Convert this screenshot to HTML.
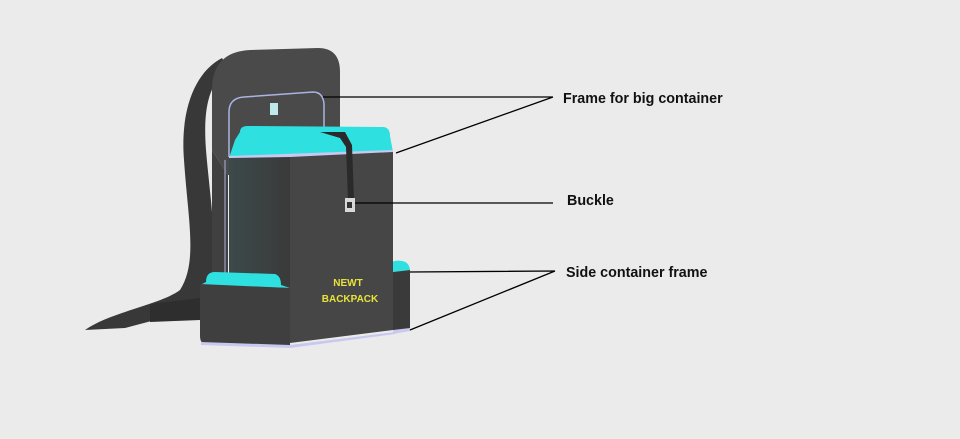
<!DOCTYPE html>
<html><head><style>
body{margin:0;background:#ebebeb;}
svg{display:block}
text{font-family:"Liberation Sans",sans-serif;}
</style></head><body>
<svg width="960" height="439" viewBox="0 0 960 439">
<defs>
<linearGradient id="lf" x1="0" y1="0" x2="1" y2="0">
<stop offset="0" stop-color="#3c4a4a"/><stop offset="1" stop-color="#3a3a3a"/>
</linearGradient>
</defs>
<rect width="960" height="439" fill="#ebebeb"/>
<!-- strap -->
<path d="M222,58 C195,72 180,110 184,160 C188,220 198,262 180,290 C160,305 110,312 85,330 L125,328 C155,320 190,312 205,298 C222,268 210,200 206,150 C203,110 208,85 228,68 Z" fill="#383838"/>
<path d="M150,304 L200,298 L200,320 L150,322 Z" fill="#2e2e2e"/>
<!-- back panel -->
<path d="M250,50 L318,48 Q340,48 340,72 L340,175 L228,175 L212,150 L212,90 Q212,52 250,50 Z" fill="#4a4a4a"/>
<path d="M212,150 L228,175 L228,285 L212,285 Z" fill="#404040"/>
<!-- frame wire -->
<path d="M229,157 L229,112 Q229,98 244,97 L313,92 Q323,92 324,104 L324,128" fill="none" stroke="#a9b4e0" stroke-width="1.5"/>
<path d="M225,160 L225,285" stroke="#a9b4e0" stroke-width="1"/>
<rect x="270" y="103" width="8" height="12" fill="#bfeaea"/>
<!-- big lid -->
<path d="M240,132 Q240,126 248,126 L384,127 Q390,128 390,136 L393,152 L229,158 L235,140 Z" fill="#2fe0e0"/>
<path d="M229,156 L393,150 L393,154 L229,160 Z" fill="#c8c8f0"/>
<!-- main box -->
<path d="M229,158 L290,157 L290,343 L229,343 Z" fill="url(#lf)"/>
<path d="M290,157 L393,152 L393,330 L290,343 Z" fill="#464646"/>
<!-- strap over lid -->
<path d="M320,132 L345,132 L352,145 L354,200 L348,200 L346,147 L340,138 Z" fill="#2a2a2a"/>
<rect x="345" y="198" width="10" height="14" fill="#d8d8d8"/>
<rect x="347" y="202" width="5" height="6" fill="#333"/>
<!-- right side container -->
<path d="M393,262 Q394,260 402,261 Q409,262 410,270 L393,272 Z" fill="#2fe0e0"/>
<path d="M393,272 L410,270 L410,330 L393,332 Z" fill="#3a3a3a"/>
<path d="M393,330 L410,328 L410,331 L393,334 Z" fill="#c8c8f0"/>
<!-- left side container -->
<path d="M206,282 Q206,272 215,272 L275,274 Q281,276 281,285 L290,288 L200,285 Z" fill="#2fe0e0"/>
<path d="M200,284 L290,288 L290,346 L205,344 Q200,343 200,336 Z" fill="#3f3f3f"/>
<path d="M201,342 L290,345 L395,332 L395,334 L290,348 L201,345 Z" fill="#c8c8f0"/>
<text x="348" y="286" fill="#e8e23a" font-size="10" font-weight="bold" text-anchor="middle">NEWT</text>
<text x="350" y="302" fill="#e8e23a" font-size="10" font-weight="bold" text-anchor="middle">BACKPACK</text>
<!-- leader lines -->
<g stroke="#000" stroke-width="1.3" fill="none">
<path d="M323,97 L553,97 M396,153 L553,97"/>
<path d="M355,203 L553,203"/>
<path d="M410,272 L555,271 M410,330 L555,271"/>
</g>
<g font-size="14.3" font-weight="bold" fill="#111">
<text x="563" y="103">Frame for big container</text>
<text x="567" y="205">Buckle</text>
<text x="566" y="277">Side container frame</text>
</g>
</svg>
</body></html>
